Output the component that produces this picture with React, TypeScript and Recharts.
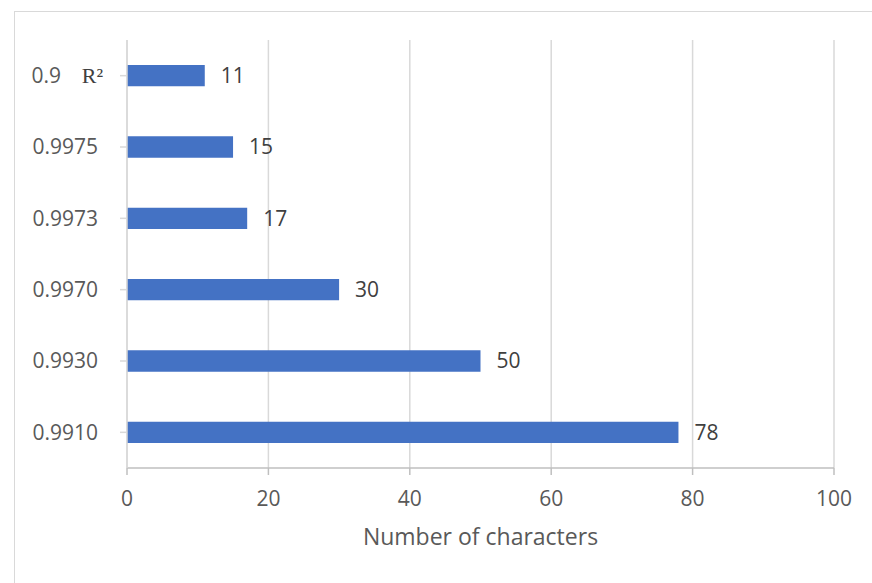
import React from "react";
import { BarChart, Bar, XAxis, YAxis, CartesianGrid, LabelList } from "recharts";

// R² threshold categories, listed top to bottom
const thresholds = ["0.9 R²", "0.9975", "0.9973", "0.9970", "0.9930", "0.9910"];
// Number of characters selected at each threshold
const characterCounts = [11, 15, 17, 30, 50, 78];
const xTicks = [0, 20, 40, 60, 80, 100];

const data = thresholds.map((t, i) => ({ threshold: t, count: characterCounts[i] }));

const FONT = "'Open Sans', sans-serif";
const TEXT = "#595959";

const ThresholdTick = (props: any) => {
  const { x, y, payload } = props;
  const label: string = payload.value;
  const parts = label.split(" ");
  if (parts.length > 1) {
    return (
      <g>
        <text x={x - 37} y={y} dy="0.35em" textAnchor="end" fontFamily={FONT} fontSize={21} fill={TEXT}>
          {parts[0]}
        </text>
        <text x={x + 5} y={y} dy="0.35em" textAnchor="end" fontFamily="'Liberation Serif', 'DejaVu Serif', serif" fontSize={22} fill="#404040">
          {parts[1]}
        </text>
      </g>
    );
  }
  return (
    <text x={x} y={y} dy="0.35em" textAnchor="end" fontFamily={FONT} fontSize={21} fill={TEXT}>
      {label}
    </text>
  );
};

export default function App() {
  return (
    <div style={{ position: "absolute", left: 0, top: 0, width: 872, height: 583, background: "#fff" }}>
      <div
        style={{
          position: "absolute",
          left: 14,
          top: 11,
          width: 870,
          height: 580,
          border: "1px solid #D9D9D9",
          boxSizing: "border-box",
        }}
      />
      <div style={{ position: "absolute", left: 0, top: 0 }}>
        <BarChart
          width={872}
          height={583}
          data={data}
          layout="vertical"
          margin={{ top: 40, right: 38, bottom: 55, left: 0 }}
          barCategoryGap="65%"
        >
          <CartesianGrid horizontal={false} stroke="#D9D9D9" strokeWidth={1.5} />
          <XAxis
            type="number"
            domain={[0, 100]}
            ticks={xTicks}
            height={60}
            tickSize={7}
            tickMargin={16}
            stroke="#BFBFBF"
            strokeWidth={1.5}
            tick={{ fill: TEXT, fontSize: 21, fontFamily: FONT }}
            label={{
              value: "Number of characters",
              position: "bottom",
              offset: 1,
              fill: TEXT,
              fontSize: 23,
              fontFamily: FONT,
            }}
          />
          <YAxis
            type="category"
            dataKey="threshold"
            width={127}
            tickSize={7}
            tickMargin={22}
            stroke="#D9D9D9"
            strokeWidth={1.5}
            tick={<ThresholdTick />}
            interval={0}
          />
          <Bar dataKey="count" fill="#4472C4" isAnimationActive={false}>
            <LabelList
              dataKey="count"
              position="right"
              offset={16}
              fill="#404040"
              fontSize={21}
              fontFamily={FONT}
            />
          </Bar>
        </BarChart>
      </div>
    </div>
  );
}
